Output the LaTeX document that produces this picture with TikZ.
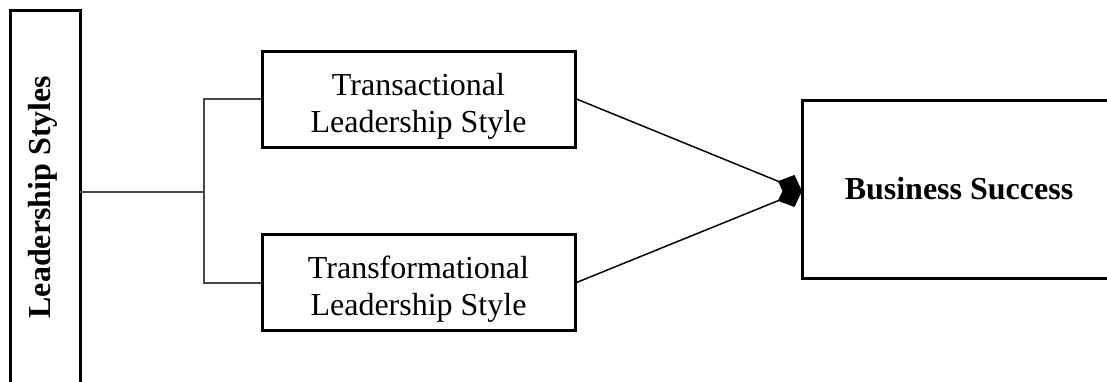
\documentclass[tikz,border=0pt]{standalone}
\usepackage{fontspec}
\setmainfont{Liberation Serif}
\usetikzlibrary{arrows.meta}
\begin{document}
\begin{tikzpicture}[x=1pt,y=-1pt,
  frame/.style={draw=black,line width=3pt},
  stylebox/.style={draw=black,line width=3pt,minimum width=313pt,minimum height=96pt,
    align=center,inner sep=0pt,font=\fontsize{32}{37}\selectfont},
  branch/.style={draw=black!72,line width=2pt},
  link/.style={draw=black,line width=1.5pt,-{Diamond[length=26pt,width=24pt]}}]
\useasboundingbox (0,0) rectangle (1107,381);
\clip (0,0) rectangle (1107,381);
% outer category frame and outcome frame, both running past the edge
\draw[frame] (10,10) rectangle (80,420);
\node[rotate=90,font=\fontsize{32}{37}\selectfont\bfseries] (ls) at (43,197) {Leadership Styles};
\coordinate (lsout) at (80,192);
\draw[frame] (802,100) rectangle (1150,278);
\node[font=\fontsize{32}{37}\selectfont\bfseries] (bs) at (959,189) {Business Success};
\coordinate (bsin) at (802,191);
% the two styles (a taller strut on the first line lowers the text a little)
\node[stylebox] (ta) at (418.5,99) {\rule{0pt}{36pt}Transactional\\Leadership Style};
\node[stylebox] (tf) at (418.5,282.5) {\rule{0pt}{36pt}Transformational\\Leadership Style};
% branching connector
\coordinate (fork) at (204,192);
\draw[branch] (lsout) -- (fork);
\draw[branch] (ta.west) -| (fork) |- (tf.west);
% links into the outcome
\draw[link] (ta.east) -- (bsin);
\draw[link] (tf.east) -- (bsin);
\end{tikzpicture}
\end{document}
